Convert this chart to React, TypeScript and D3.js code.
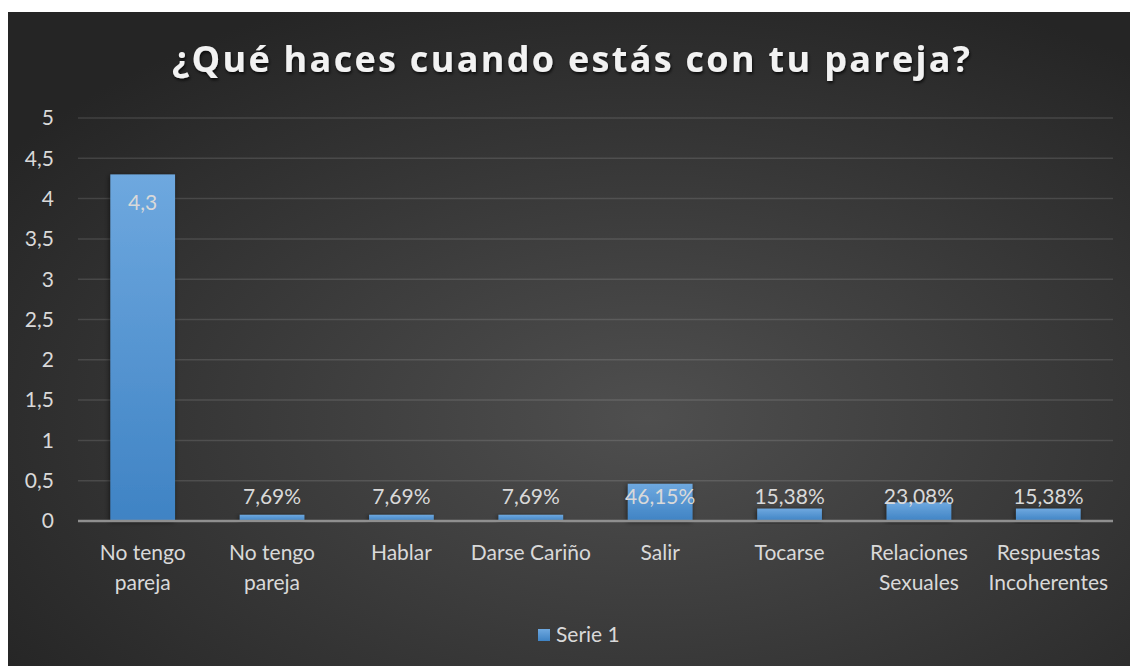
import React, { useEffect, useRef } from "react";
import * as d3 from "d3";

const title = "¿Qué haces cuando estás con tu pareja?";
const categories = [
  "No tengo pareja",
  "No tengo pareja",
  "Hablar",
  "Darse Cariño",
  "Salir",
  "Tocarse",
  "Relaciones Sexuales",
  "Respuestas Incoherentes",
];
const values = [4.3, 0.0769, 0.0769, 0.0769, 0.4615, 0.1538, 0.2308, 0.1538];
const valueLabels = ["4,3", "7,69%", "7,69%", "7,69%", "46,15%", "15,38%", "23,08%", "15,38%"];
const yTicks = [0, 0.5, 1, 1.5, 2, 2.5, 3, 3.5, 4, 4.5, 5];
const yTickLabels = ["0", "0,5", "1", "1,5", "2", "2,5", "3", "3,5", "4", "4,5", "5"];
const seriesName = "Serie 1";

const W = 1130;
const H = 666;
const FONT = "Lato, 'Open Sans', sans-serif";
const TITLE_FONT = "'Open Sans', Lato, sans-serif";

export default function App() {
  const ref = useRef<SVGSVGElement | null>(null);

  useEffect(() => {
    const svg = d3.select(ref.current);
    svg.selectAll("*").remove();

    const defs = svg.append("defs");
    const bg = defs
      .append("radialGradient")
      .attr("id", "bg")
      .attr("cx", "57%")
      .attr("cy", "62%")
      .attr("r", "70%");
    bg.append("stop").attr("offset", "0%").attr("stop-color", "#4f4f4f");
    bg.append("stop").attr("offset", "100%").attr("stop-color", "#252525");

    const bar = defs
      .append("linearGradient")
      .attr("id", "bar")
      .attr("x1", 0)
      .attr("y1", 0)
      .attr("x2", 0)
      .attr("y2", 1);
    bar.append("stop").attr("offset", "0%").attr("stop-color", "#6ea8df");
    bar.append("stop").attr("offset", "100%").attr("stop-color", "#3f83c4");

    const sh = defs.append("filter").attr("id", "sh").attr("x", "-20%").attr("y", "-20%").attr("width", "140%").attr("height", "140%");
    sh.append("feDropShadow")
      .attr("dx", -1)
      .attr("dy", 1)
      .attr("stdDeviation", 2.5)
      .attr("flood-color", "#000")
      .attr("flood-opacity", 0.55);

    const tsh = defs.append("filter").attr("id", "tsh").attr("x", "-5%").attr("y", "-30%").attr("width", "110%").attr("height", "160%");
    tsh.append("feDropShadow")
      .attr("dx", 1)
      .attr("dy", 2)
      .attr("stdDeviation", 1.5)
      .attr("flood-color", "#000")
      .attr("flood-opacity", 0.75);

    svg.append("rect").attr("width", W).attr("height", H).attr("fill", "#fff");
    svg
      .append("rect")
      .attr("x", 8)
      .attr("y", 12)
      .attr("width", W - 8)
      .attr("height", H - 12)
      .attr("fill", "url(#bg)");

    const left = 78,
      right = 1113,
      top = 118,
      bottom = 521;

    const x = d3.scaleBand<number>().domain(d3.range(categories.length)).range([left, right]).paddingInner(0.5).paddingOuter(0.25);
    const y = d3.scaleLinear().domain([0, 5]).range([bottom, top]);

    // title
    svg
      .append("text")
      .attr("x", 571)
      .attr("y", 72)
      .attr("text-anchor", "middle")
      .attr("font-family", TITLE_FONT)
      .attr("font-weight", 700)
      .attr("font-size", 36)
      .attr("fill", "#f2f2f2")
      .attr("textLength", 798)
      .attr("lengthAdjust", "spacing")
      .attr("filter", "url(#tsh)")
      .text(title);

    // gridlines
    svg
      .append("g")
      .selectAll("line")
      .data(yTicks.filter((t) => t > 0))
      .join("line")
      .attr("x1", left)
      .attr("x2", right)
      .attr("y1", (d) => y(d))
      .attr("y2", (d) => y(d))
      .attr("stroke", "#ffffff")
      .attr("stroke-opacity", 0.12)
      .attr("stroke-width", 1.5);

    // y tick labels
    svg
      .append("g")
      .selectAll("text")
      .data(yTicks)
      .join("text")
      .attr("x", 54)
      .attr("y", (d) => y(d))
      .attr("dy", "0.35em")
      .attr("text-anchor", "end")
      .attr("font-family", FONT)
      .attr("font-size", 21)
      .attr("fill", "#d9d9d9")
      .text((d, i) => yTickLabels[i]);

    // bars
    svg
      .append("g")
      .selectAll("rect")
      .data(values)
      .join("rect")
      .attr("x", (d, i) => x(i)!)
      .attr("y", (d) => y(d))
      .attr("width", x.bandwidth())
      .attr("height", (d) => y(0) - y(d))
      .attr("fill", "url(#bar)")
      .attr("filter", "url(#sh)");

    // axis line
    svg
      .append("line")
      .attr("x1", left)
      .attr("x2", right)
      .attr("y1", y(0))
      .attr("y2", y(0))
      .attr("stroke", "#8f8f8f")
      .attr("stroke-width", 2.5);

    // value labels
    svg
      .append("g")
      .selectAll("text")
      .data(values)
      .join("text")
      .attr("x", (d, i) => x(i)! + x.bandwidth() / 2)
      .attr("y", (d) => (d > 1 ? y(d) + 36 : y(0) - 17))
      .attr("text-anchor", "middle")
      .attr("font-family", FONT)
      .attr("font-size", 21)
      .attr("fill", "#d9d9d9")
      .text((d, i) => valueLabels[i]);

    // category labels
    const step = x.step();
    const cg = svg.append("g");
    categories.forEach((c, i) => {
      const cx = x(i)! + x.bandwidth() / 2;
      const t = cg
        .append("text")
        .attr("text-anchor", "middle")
        .attr("font-family", FONT)
        .attr("font-size", 21)
        .attr("fill", "#d9d9d9");
      const words = c.split(" ");
      const lines: string[] = [];
      let cur = "";
      const probe = t.append("tspan");
      words.forEach((w) => {
        const test = cur ? cur + " " + w : w;
        probe.text(test);
        const len = (probe.node() as SVGTSpanElement).getComputedTextLength();
        if (len > step - 2 && cur) {
          lines.push(cur);
          cur = w;
        } else cur = test;
      });
      lines.push(cur);
      probe.remove();
      lines.forEach((l, k) => {
        t.append("tspan").attr("x", cx).attr("y", 560 + k * 30).text(l);
      });
    });

    // legend
    svg
      .append("rect")
      .attr("x", 538)
      .attr("y", 629)
      .attr("width", 12)
      .attr("height", 12)
      .attr("fill", "url(#bar)");
    svg
      .append("text")
      .attr("x", 556)
      .attr("y", 635)
      .attr("dy", "0.35em")
      .attr("font-family", FONT)
      .attr("font-size", 21)
      .attr("fill", "#d9d9d9")
      .text(seriesName);
  }, []);

  return (
    <svg
      ref={ref}
      width={W}
      height={H}
      style={{ position: "absolute", left: 0, top: 0, display: "block" }}
    />
  );
}
